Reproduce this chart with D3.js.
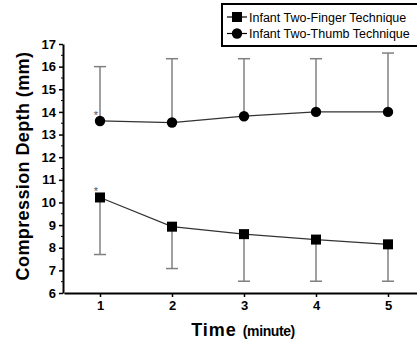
<!DOCTYPE html>
<html>
<head>
<meta charset="utf-8">
<script src="https://cdn.jsdelivr.net/npm/d3@7"></script>
<style>
  html, body { margin: 0; padding: 0; background: #fff; }
  svg { display: block; font-family: Arial, "Liberation Sans", sans-serif; }
</style>
</head>
<body>
<div class="chart"></div>
<script>
// values
const minutes = [1, 2, 3, 4, 5];
const fingerMean = [10.22, 8.93, 8.6, 8.36, 8.15];
const fingerLow = [7.7, 7.08, 6.52, 6.52, 6.52];
const thumbMean = [13.6, 13.53, 13.81, 14.0, 14.0];
const thumbHigh = [16.0, 16.35, 16.35, 16.35, 16.6];
const yTicks = [6, 7, 8, 9, 10, 11, 12, 13, 14, 15, 16, 17];
const seriesNames = ["Infant Two-Finger Technique", "Infant Two-Thumb Technique"];

const width = 417, height = 345;
const svg = d3.select(".chart").append("svg")
    .attr("width", width)
    .attr("height", height);

const x = d3.scaleLinear().domain([0.5, 5.5]).range([64, 424]);
const y = d3.scaleLinear().domain([6, 17]).range([293, 44]);

const finger = minutes.map((m, i) => ({m: m, v: fingerMean[i], e: fingerLow[i]}));
const thumb = minutes.map((m, i) => ({m: m, v: thumbMean[i], e: thumbHigh[i]}));

// y axis
const yAxis = svg.append("g")
    .attr("transform", "translate(63,0)")
    .call(d3.axisLeft(y).tickValues(yTicks).tickSize(4).tickPadding(3).tickSizeOuter(0));
yAxis.select(".domain").attr("stroke-width", 2);
yAxis.selectAll(".tick line").attr("stroke-width", 1.5);
yAxis.selectAll(".tick text").attr("font-size", 13).attr("font-weight", "bold").attr("fill", "#000");
// minor ticks
yAxis.selectAll(".minor").data(yTicks.slice(0, -1).map(d => d + 0.5))
    .enter().append("line")
    .attr("class", "minor")
    .attr("x1", -2).attr("x2", 0)
    .attr("y1", d => y(d)).attr("y2", d => y(d))
    .attr("stroke", "#000").attr("stroke-width", 1);

// x axis
const xAxis = svg.append("g")
    .attr("transform", "translate(0,293)")
    .call(d3.axisBottom(x).tickValues(minutes).tickSize(4).tickPadding(4).tickSizeOuter(0).tickFormat(d3.format("d")));
xAxis.select(".domain").attr("stroke-width", 2);
xAxis.selectAll(".tick line").attr("stroke-width", 1.5);
xAxis.selectAll(".tick text").attr("font-size", 13).attr("font-weight", "bold").attr("fill", "#000");

// axis titles
svg.append("text")
    .attr("transform", "translate(29,166) rotate(-90)")
    .attr("text-anchor", "middle")
    .attr("font-size", 18).attr("font-weight", "bold")
    .attr("letter-spacing", 0.4)
    .text("Compression Depth (mm)");

const xt = svg.append("text")
    .attr("x", 243).attr("y", 336)
    .attr("text-anchor", "middle")
    .attr("font-weight", "bold");
xt.append("tspan").attr("font-size", 18).attr("letter-spacing", 1).text("Time ");
xt.append("tspan").attr("font-size", 14).attr("letter-spacing", -0.4).text("(minute)");

// error bars
function errorBars(data) {
    const g = svg.append("g").attr("stroke", "#808080").attr("stroke-width", 1.5);
    g.selectAll(".bar").data(data).enter().append("line")
        .attr("x1", d => x(d.m)).attr("x2", d => x(d.m))
        .attr("y1", d => y(d.v)).attr("y2", d => y(d.e));
    g.selectAll(".cap").data(data).enter().append("line")
        .attr("x1", d => x(d.m) - 6).attr("x2", d => x(d.m) + 6)
        .attr("y1", d => y(d.e)).attr("y2", d => y(d.e));
}
errorBars(finger);
errorBars(thumb);

const line = d3.line().x(d => x(d.m)).y(d => y(d.v));
[finger, thumb].forEach(s => {
    svg.append("path").datum(s)
        .attr("d", line)
        .attr("fill", "none")
        .attr("stroke", "#333")
        .attr("stroke-width", 1.2);
});

// markers
svg.selectAll(".sq").data(finger).enter().append("rect")
    .attr("x", d => x(d.m) - 5).attr("y", d => y(d.v) - 5)
    .attr("width", 10).attr("height", 10)
    .attr("fill", "#000");
svg.selectAll(".ci").data(thumb).enter().append("circle")
    .attr("cx", d => x(d.m)).attr("cy", d => y(d.v))
    .attr("r", 5.2).attr("fill", "#000");

// significance marks at minute 1
[finger[0], thumb[0]].forEach(d => {
    svg.append("text")
        .attr("x", x(d.m) - 4).attr("y", y(d.v) - 2)
        .attr("text-anchor", "middle")
        .attr("font-size", 11).attr("fill", "#555")
        .text("*");
});

// legend
const lg = svg.append("g");
lg.append("rect")
    .attr("x", 222).attr("y", 4)
    .attr("width", 205).attr("height", 42)
    .attr("fill", "#fff").attr("stroke", "#000").attr("stroke-width", 2);
seriesNames.forEach((name, i) => {
    const ly = 17 + i * 16.5;
    lg.append("line")
        .attr("x1", 227).attr("x2", 247)
        .attr("y1", ly).attr("y2", ly)
        .attr("stroke", "#000").attr("stroke-width", 1.2);
    if (i === 0) {
        lg.append("rect").attr("x", 232).attr("y", ly - 5).attr("width", 10).attr("height", 10).attr("fill", "#000");
    } else {
        lg.append("circle").attr("cx", 237).attr("cy", ly).attr("r", 5.2).attr("fill", "#000");
    }
    lg.append("text")
        .attr("x", 249).attr("y", ly + 4.5)
        .attr("font-size", 12.5)
        .text(name);
});
</script>
</body>
</html>
